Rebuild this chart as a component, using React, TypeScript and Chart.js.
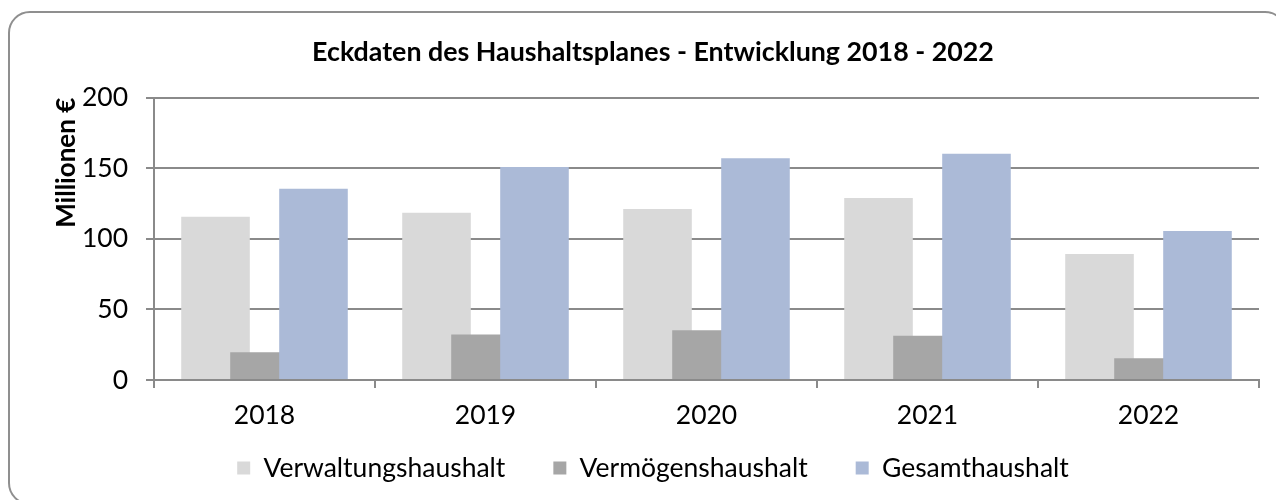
import React, { useEffect, useRef } from 'react';
import { Chart, registerables } from 'chart.js';

Chart.register(...registerables);

const categories = ['2018', '2019', '2020', '2021', '2022'];
const verwaltungshaushalt = [115.7, 118.6, 121.1, 128.9, 89.3];
const vermoegenshaushalt = [19.6, 32.2, 35.3, 31.3, 15.4];
const gesamthaushalt = [135.6, 151, 157.1, 160.4, 105.5];
const seriesNames = ['Verwaltungshaushalt', 'Vermögenshaushalt', 'Gesamthaushalt'];
const seriesColors = ['#d9d9d9', '#a6a6a6', '#abbad7'];
const yMin = 0;
const yMax = 200;
const yStep = 50;
const titleText = 'Eckdaten des Haushaltsplanes - Entwicklung 2018 - 2022';
const yTitleText = 'Millionen €';

const GRID = '#8a8a8a';
const TICK_FONT = 26.5;

// draw datasets in index order so later series lie on top (like the reference),
// and let the x tick labels extend below the thin x scale box
const drawOrderPlugin = {
  id: 'drawOrder',
  afterLayout(chart: any) {
    const xs = chart.scales.x;
    if (xs) xs._computeLabelArea = () => undefined;
  },
  beforeDatasetsDraw(chart: any) {
    for (let i = 0; i < chart.data.datasets.length; i++) {
      const meta = chart.getDatasetMeta(i);
      if (!meta.hidden) meta.controller.draw();
    }
    return false;
  },
};

export default function App() {
  const canvasRef = useRef<HTMLCanvasElement | null>(null);

  useEffect(() => {
    if (!canvasRef.current) return;
    Chart.defaults.font.family = 'Lato';
    Chart.defaults.color = '#000';
    const chart = new Chart(canvasRef.current, {
      type: 'bar',
      data: {
        labels: categories,
        datasets: [
          { label: seriesNames[0], data: verwaltungshaushalt, backgroundColor: seriesColors[0] },
          { label: seriesNames[1], data: vermoegenshaushalt, backgroundColor: seriesColors[1] },
          { label: seriesNames[2], data: gesamthaushalt, backgroundColor: seriesColors[2] },
        ],
      },
      options: {
        responsive: false,
        animation: false,
        events: [],
        layout: { padding: { left: 47, right: 17, top: 0, bottom: 8.75 } },
        datasets: {
          bar: { categoryPercentage: 0.665, barPercentage: 1.4 },
        },
        plugins: {
          title: {
            display: true,
            text: titleText,
            font: { size: 26.8, weight: 'bold' },
            color: '#000',
            padding: { top: 35.8, bottom: 29.8 },
          },
          legend: {
            position: 'bottom',
            labels: {
              boxWidth: 13,
              boxHeight: 13,
              padding: 48,
              font: { size: TICK_FONT },
              color: '#000',
            },
          },
          tooltip: { enabled: false },
        },
        scales: {
          x: {
            afterFit: (s: any) => { s.height = 26.75; },
            grid: {
              display: true,
              drawOnChartArea: false,
              drawTicks: true,
              tickLength: 8,
              color: GRID,
              lineWidth: 2,
              offset: true,
            },
            border: { display: true, color: GRID, width: 2 },
            ticks: { font: { size: TICK_FONT }, color: '#000', padding: 12 },
          },
          y: {
            min: yMin,
            max: yMax,
            afterFit: (s: any) => { s.width = 107; },
            ticks: { stepSize: yStep, font: { size: TICK_FONT }, color: '#000', padding: 18 },
            grid: { color: GRID, lineWidth: 2, tickLength: 8, drawTicks: true },
            border: { display: true, color: GRID, width: 2 },
            title: {
              display: true,
              text: yTitleText,
              align: 'end',
              font: { size: 26, weight: 'bold' },
              color: '#000',
              padding: { top: 4.4, bottom: 0 },
            },
          },
        },
      },
      plugins: [drawOrderPlugin],
    } as any);
    return () => chart.destroy();
  }, []);

  return (
    <div style={{ position: 'fixed', left: 0, top: 0, width: 1276, height: 500, overflow: 'hidden', background: '#fff' }}>
      <div
        style={{
          position: 'absolute',
          left: 8,
          top: 11,
          width: 1279,
          height: 494,
          border: '2px solid #8f8f8f',
          borderRadius: 22,
          boxSizing: 'border-box',
        }}
      />
      <canvas ref={canvasRef} width={1276} height={500} style={{ position: 'absolute', left: 0, top: 0 }} />
    </div>
  );
}
